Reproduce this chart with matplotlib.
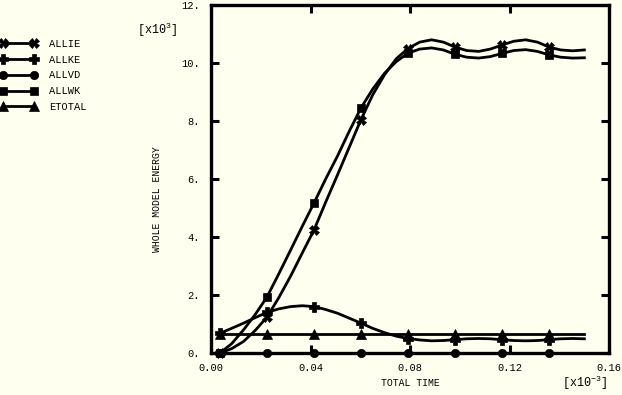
import matplotlib
matplotlib.use("Agg")
import matplotlib.pyplot as plt
from matplotlib.lines import Line2D

plt.rcParams['font.family'] = ['Liberation Mono', 'DejaVu Sans Mono']
plt.rcParams['mathtext.fontset'] = 'custom'
plt.rcParams['mathtext.rm'] = 'Liberation Mono'
plt.rcParams['mathtext.it'] = 'Liberation Mono'

# time [x1e-3]
t = [0.0036, 0.0083, 0.0131, 0.0178, 0.0225, 0.0272, 0.0320, 0.0367, 0.0414, 0.0461,
     0.0509, 0.0556, 0.0603, 0.0650, 0.0698, 0.0745, 0.0792, 0.0839, 0.0887, 0.0934,
     0.0981, 0.1028, 0.1076, 0.1123, 0.1170, 0.1217, 0.1265, 0.1312, 0.1359, 0.1406,
     0.1454, 0.1501]
# energies [x1e3]
allie = [0.0, 0.15, 0.40, 0.78, 1.24, 1.90, 2.65, 3.45, 4.24, 5.20,
         6.15, 7.10, 8.05, 8.90, 9.60, 10.15, 10.50, 10.72, 10.80, 10.72,
         10.55, 10.43, 10.40, 10.48, 10.62, 10.75, 10.80, 10.72, 10.55, 10.45,
         10.42, 10.45]
allke = [0.68, 0.85, 1.03, 1.22, 1.40, 1.52, 1.60, 1.63, 1.60, 1.50,
         1.37, 1.20, 1.03, 0.85, 0.70, 0.58, 0.50, 0.45, 0.42, 0.43,
         0.46, 0.49, 0.50, 0.49, 0.46, 0.43, 0.42, 0.43, 0.46, 0.49,
         0.50, 0.49]
allvd = [0.0] * 32
allwk = [0.0, 0.32, 0.80, 1.33, 1.93, 2.72, 3.55, 4.37, 5.17, 6.00,
         6.80, 7.65, 8.45, 9.10, 9.65, 10.05, 10.34, 10.48, 10.52, 10.45,
         10.30, 10.20, 10.17, 10.22, 10.33, 10.43, 10.46, 10.40, 10.28, 10.20,
         10.17, 10.18]
etotal = [0.64] * 32

labels = ['ALLIE', 'ALLKE', 'ALLVD', 'ALLWK', 'ETOTAL']
series = [allie, allke, allvd, allwk, etotal]
markers = ['X', 'P', 'o', 's', '^']
msizes = [6.5, 6.5, 6, 6, 6.5]

bg = '#fffff0'
fig = plt.figure(figsize=(6.22, 3.95), dpi=100, facecolor=bg)
ax = fig.add_axes([211/622, 1-353/395, (609-211)/622, (353-5)/395])
ax.set_facecolor(bg)

for y, m, ms in zip(series, markers, msizes):
    ax.plot(t, y, color='black', lw=2.0, marker=m, markersize=ms,
            markevery=4, markeredgewidth=0.5, markerfacecolor='black',
            markeredgecolor='black', clip_on=False, zorder=3)

ax.set_xlim(0, 0.16)
ax.set_ylim(0, 12)
ax.set_xticks([0.0, 0.04, 0.08, 0.12, 0.16])
ax.set_xticklabels(['0.00', '0.04', '0.08', '0.12', '0.16'])
ax.set_yticks([0, 2, 4, 6, 8, 10, 12])
ax.set_yticklabels(['0.', '2.', '4.', '6.', '8.', '10.', '12.'])
ax.tick_params(direction='in', length=6, width=2.2, top=True, right=True,
               labelsize=7.5, colors='black')
ax.tick_params(axis='x', pad=7)
ax.tick_params(axis='y', pad=8)
for s in ax.spines.values():
    s.set_linewidth(2.4)

fig.text(157/622, 1-199/395, 'WHOLE MODEL ENERGY', rotation=90, ha='center',
         va='center', fontsize=7)
fig.text(410/622, 1-383/395, 'TOTAL TIME', ha='center', va='center', fontsize=7)
fig.text(137/622, 1-30/395, r'[x10$^{3}$]', ha='left', va='center', fontsize=8.5)
fig.text(562/622, 1-383/395, r'[x10$^{-3}$]', ha='left', va='center', fontsize=8.5)

handles = [Line2D([0], [0], color='black', lw=2.0, marker=m, markersize=ms,
                  markerfacecolor='black', markeredgecolor='black',
                  markeredgewidth=0.5)
           for m, ms in zip(markers, msizes)]
fig.legend(handles, labels, loc='upper left', bbox_to_anchor=(0.0, 1-39/395),
           frameon=False, numpoints=2, handlelength=3.6, handletextpad=1.15,
           labelspacing=0.55, borderpad=0, borderaxespad=0, fontsize=7.5)

fig.savefig('out.png', dpi=100, facecolor=bg)
